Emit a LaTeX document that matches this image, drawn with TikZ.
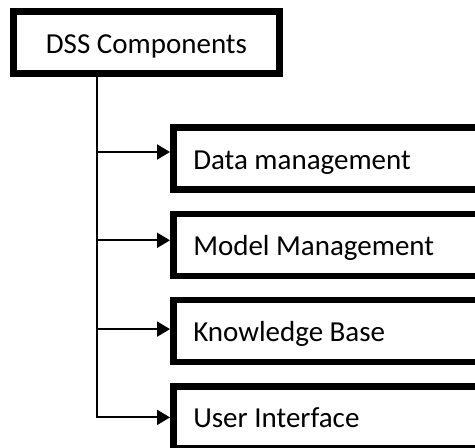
\documentclass[tikz,border=0pt]{standalone}
\usepackage{fontspec}
\setmainfont{Carlito}
\usetikzlibrary{arrows.meta,positioning}
\tikzset{
    heavybox/.style={draw,line width=6.5pt,text height=21pt,text depth=0pt,minimum height=62pt},
    part/.style={heavybox,anchor=west,inner xsep=20pt,text width=300pt,align=flush left},
    feed/.style={line width=2pt,-{Triangle[length=13pt,width=15pt]}},
}

\begin{document}
\begin{tikzpicture}[x=1pt,y=-1pt,font=\fontsize{29}{34}\selectfont]
\useasboundingbox (0,0) rectangle (475,448);
\clip (0,0) rectangle (475,448);
\node[heavybox,minimum width=266pt] (dss) at (146.5,42.5) {DSS Components};
\foreach \n/\t/\y in {data/Data management/158.5,model/Model Management/244.8,
    know/Knowledge Base/331.1,user/User Interface/417.4}
  {
     \node[part] (\n) at (170,\y) {\t};}
\coordinate (trunk) at (97,418);
\foreach \n/\s in {data/6.5,model/4.5,know/2,user/0}
  {
     \path ([yshift=\s pt]\n.west) coordinate (\n-tip);}
\draw[feed] (dss.south -| trunk) |- (user-tip);
\foreach \n in {data,model,know}
    \draw[feed] (trunk |- \n-tip) -- (\n-tip);
\end{tikzpicture}
\end{document}
